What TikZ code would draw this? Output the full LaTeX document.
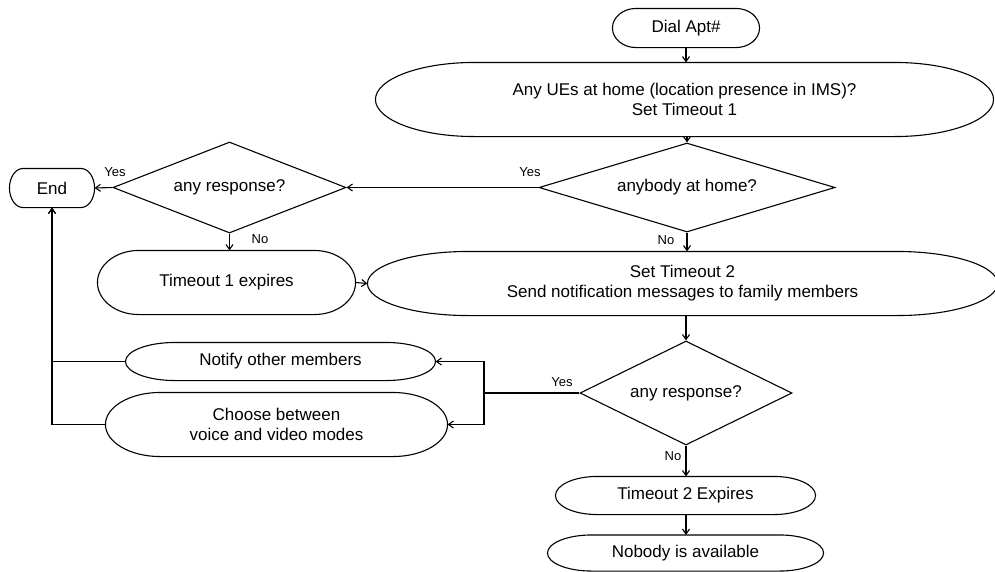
\documentclass[tikz,border=0pt]{standalone}
\usepackage{fontspec}
\setmainfont{Liberation Sans}
\usetikzlibrary{shapes.geometric,arrows.meta,calc}

\tikzset{
  termbox/.style={inner sep=0pt, align=center},
  decision/.style={diamond, draw, inner sep=0pt},
  lbl/.style={font=\fontsize{13}{15}\selectfont, inner sep=0pt},
  arr/.style={-{Straight Barb[length=5pt,width=7pt]}},
}

% outline of a terminator box with elliptic ends
\newcommand{\termline}[1]{%
  \draw let \p1=(#1.south west), \p2=(#1.north east),
    \n1={0.16*(\x2-\x1)}, \n2={(\y2-\y1)/2} in
    ([xshift=\n1]#1.north west) -- ([xshift=-\n1]#1.north east)
    arc[start angle=90, end angle=-90, x radius=\n1, y radius=\n2]
    -- ([xshift=\n1]#1.south west)
    arc[start angle=270, end angle=90, x radius=\n1, y radius=\n2] -- cycle;}

\begin{document}
\begin{tikzpicture}[x=1pt, y=-1pt, line width=1.1pt, font=\fontsize{17}{20}\selectfont]
    \useasboundingbox (0,0) rectangle (995,571);

    % Dial
    \node[termbox, minimum width=146pt, minimum height=38pt] (dial) at (686,28) {Dial Apt\#};
    \termline{dial}

    % UEs at home
    \node[termbox, minimum width=617pt, minimum height=73pt] (ues) at (684.5,99.5)
        {Any UEs at home (location presence in IMS)?\\Set Timeout 1};
    \termline{ues}
    \draw[arr] (dial.south) -- (dial.south |- ues.north);

    % anybody at home
    \node[decision, aspect=3.33, minimum width=296pt, minimum height=89pt] (home) at (687,187.5) {anybody at home?};
    \draw[arr] (home.north |- ues.south) -- (home.north);

    % first response
    \node[decision, aspect=2.56, minimum width=233pt, minimum height=91pt] (resp1) at (229.5,187.5) {any response?};
    \draw[arr] (home.west) -- (resp1.east);
    \node[lbl] (yes1) at (530,172) {Yes};

    % End
    \node[termbox, minimum width=84pt, minimum height=38pt] (end) at (52,188) {End};
    \termline{end}
    \draw[arr] (resp1.west) -- (end.east);
    \node[lbl] (yes2) at (115,172) {Yes};

    % Timeout 1
    \node[termbox, minimum width=257pt, minimum height=63pt] (to1) at (226.5,282.5) {Timeout 1 expires};
    \termline{to1}
    \draw[arr] (resp1.south) -- (resp1.south |- to1.north);
    \node[lbl] (no1) at (260,239) {No};

    % Timeout 2 and notification
    \node[termbox, minimum width=629pt, minimum height=63pt] (to2) at (682.5,283.5)
        {Set Timeout 2\\Send notification messages to family members};
    \termline{to2}
    \draw[arr] (home.south) -- (home.south |- to2.north);
    \draw[arr] (to1.east) -- (to2.west);
    \node[lbl] (no2) at (666,240) {No};

    % second response
    \node[decision, aspect=2.04, minimum width=212pt, minimum height=104pt] (resp2) at (686,393) {any response?};
    \draw[arr] (resp2.north |- to2.south) -- (resp2.north);
    \node[lbl] (yes3) at (562,382) {Yes};

    % Notify
    \node[termbox, minimum width=309pt, minimum height=37pt] (notify) at (280.5,361.5) {Notify other members};
    \termline{notify}

    % Choose modes
    \node[termbox, minimum width=341pt, minimum height=63pt] (choose) at (276.5,424.5)
        {Choose between\\voice and video modes};
    \termline{choose}

    \coordinate (split) at (484,393);
    \draw (resp2.west) -- (split);
    \draw[arr] (split) |- (notify.east);
    \draw[arr] (split) |- (choose.east);
    \draw[arr] (notify.west) -| (end.south);
    \draw[arr] (choose.west) -| (end.south);

    % Timeout 2 expires
    \node[termbox, minimum width=259pt, minimum height=37pt] (to2x) at (685.5,495.5) {Timeout 2 Expires};
    \termline{to2x}
    \draw[arr] (resp2.south) -- (resp2.south |- to2x.north);
    \node[lbl] (no3) at (673,456) {No};

    % Nobody
    \node[termbox, minimum width=275pt, minimum height=35pt] (nobody) at (685.5,553) {Nobody is available};
    \termline{nobody}
    \draw[arr] (resp2.south |- to2x.south) -- (resp2.south |- nobody.north);
\end{tikzpicture}
\end{document}
